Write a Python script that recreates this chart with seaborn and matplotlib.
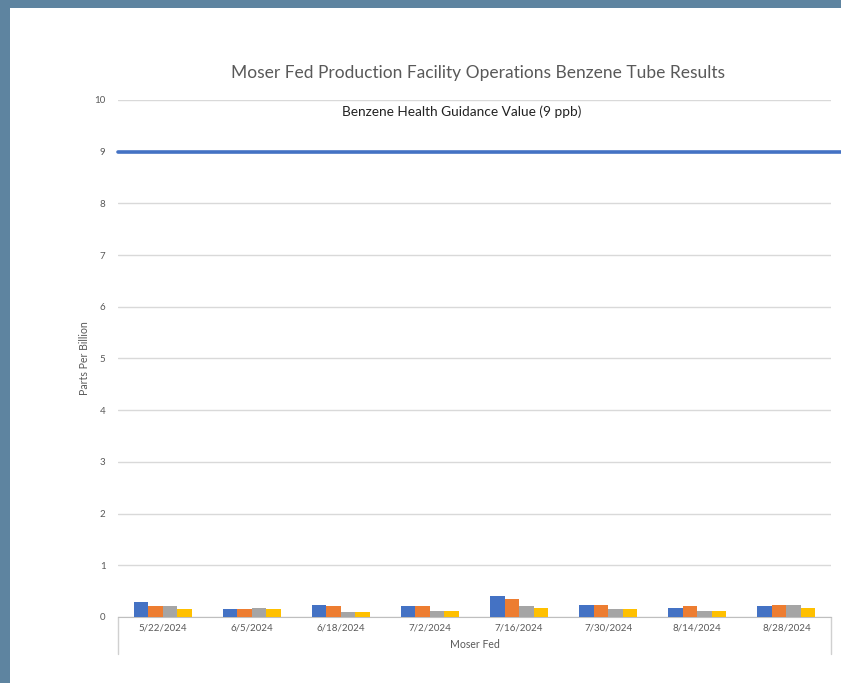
import pandas as pd
import seaborn as sns
import matplotlib.pyplot as plt
from matplotlib.patches import Rectangle

# -----------------------------
# Data
# -----------------------------
fechas = ["5/22/2024", "6/5/2024", "6/18/2024", "7/2/2024",
          "7/16/2024", "7/30/2024", "8/14/2024", "8/28/2024"]
tubo_1 = [0.29, 0.15, 0.23, 0.21, 0.41, 0.23, 0.17, 0.21]
tubo_2 = [0.21, 0.15, 0.21, 0.21, 0.35, 0.23, 0.21, 0.23]
tubo_3 = [0.21, 0.17, 0.09, 0.12, 0.21, 0.15, 0.12, 0.23]
tubo_4 = [0.15, 0.15, 0.09, 0.12, 0.17, 0.15, 0.12, 0.17]
series = ["Tube 1", "Tube 2", "Tube 3", "Tube 4"]
guia_benceno = 9

colores = ["#4472C4", "#ED7D31", "#A5A5A5", "#FFC000"]

df = pd.DataFrame({"fecha": fechas, "Tube 1": tubo_1, "Tube 2": tubo_2,
                   "Tube 3": tubo_3, "Tube 4": tubo_4})
df = df.melt(id_vars="fecha", var_name="tubo", value_name="ppb")

# -----------------------------
# Figure
# -----------------------------
sns.set_style("white")
plt.rcParams["font.family"] = ["Lato", "DejaVu Sans"]

fig = plt.figure(figsize=(8.41, 6.83), dpi=100, facecolor="#5E84A0")
fig.patches.append(Rectangle((10 / 841, 0), 1, 1 - 8 / 683, transform=fig.transFigure,
                             facecolor="white", edgecolor="none", zorder=-5))
ax = fig.add_axes([118 / 841, 66 / 683, 713 / 841, 517 / 683])
ax.set_zorder(2)
ax.set_facecolor("none")

sns.barplot(data=df, x="fecha", y="ppb", hue="tubo", hue_order=series,
            palette=colores, saturation=1, width=0.65, gap=0, legend=False,
            linewidth=0, ax=ax, zorder=3)

ax.set_ylim(0, 10)
ax.set_yticks(range(0, 11))
ax.grid(axis="y", color="#D9D9D9", linewidth=1, zorder=0)
ax.set_axisbelow(True)
ax.tick_params(axis="y", length=0, pad=9, labelsize=7, labelcolor="#595959")
ax.tick_params(axis="x", length=0, pad=5, labelsize=7, labelcolor="#595959")
for s in ["top", "right", "left"]:
    ax.spines[s].set_visible(False)
ax.spines["bottom"].set_color("#BFBFBF")
ax.set_xlabel("")
ax.set_ylabel("")

# caja del eje de categorias (estilo Excel)
for xx in [0, 1]:
    ax.plot([xx, xx], [0, -0.072], transform=ax.transAxes, color="#D0D0D0",
            linewidth=1, clip_on=False)

# linea de valor guia
ax.plot([0, 1.02], [guia_benceno, guia_benceno], transform=ax.get_yaxis_transform(),
        color="#4472C4", linewidth=2.6, clip_on=False, zorder=4)
ax.set_xlim(-0.5, len(fechas) - 0.5)

fig.text(478 / 841, 1 - 73 / 683, "Moser Fed Production Facility Operations Benzene Tube Results",
         ha="center", va="center", fontsize=12.5, color="#595959")
fig.text(462 / 841, 1 - 111.5 / 683, "Benzene Health Guidance Value (9 ppb)",
         ha="center", va="center", fontsize=9.8, color="#222222")
fig.text(84 / 841, 1 - 358 / 683, "Parts Per Billion", rotation=90,
         ha="center", va="center", fontsize=7.6, color="#595959")
fig.text(475 / 841, 1 - 645 / 683, "Moser Fed",
         ha="center", va="center", fontsize=7.6, color="#595959")

fig.savefig("out.png", dpi=100, facecolor=fig.get_facecolor())
